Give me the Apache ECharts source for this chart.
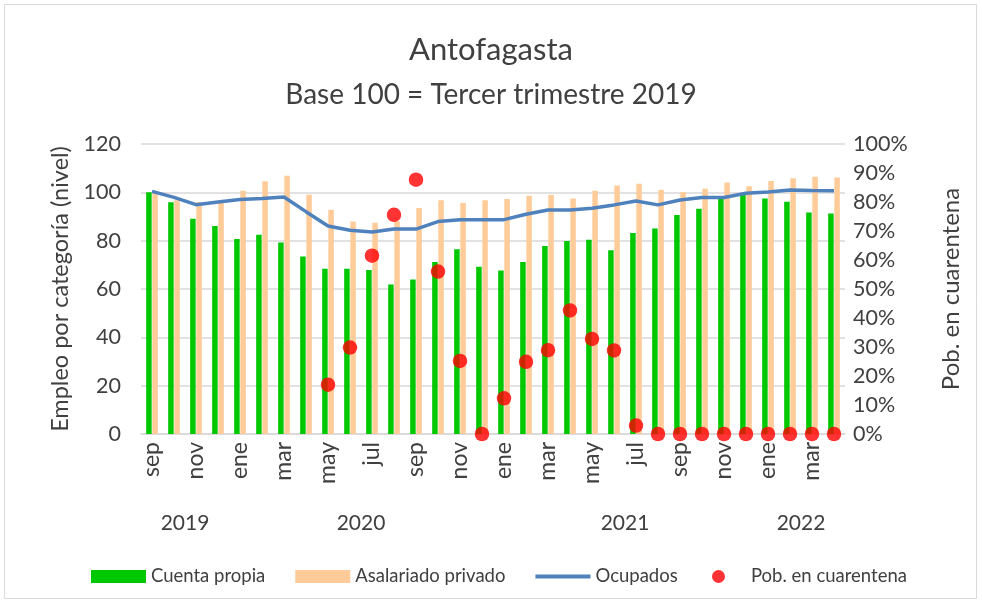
<!DOCTYPE html>
<html>
<head>
<meta charset="utf-8">
<script src="https://cdn.jsdelivr.net/npm/echarts@6/dist/echarts.min.js"></script>
<style>
html,body{margin:0;padding:0;background:#fff;}
#c{width:982px;height:604px;}
</style>
</head>
<body>
<div id="c"></div>
<script>
const months = ['sep','oct','nov','dic','ene','feb','mar','abr','may','jun','jul','ago',
  'sep','oct','nov','dic','ene','feb','mar','abr','may','jun','jul','ago',
  'sep','oct','nov','dic','ene','feb','mar','abr'];
const monthYears = [2019,2019,2019,2019,
  2020,2020,2020,2020,2020,2020,2020,2020,2020,2020,2020,2020,
  2021,2021,2021,2021,2021,2021,2021,2021,2021,2021,2021,2021,
  2022,2022,2022,2022];
const cuentaPropia = [100,95.9,89.1,86.1,80.7,82.5,79.2,73.4,68.4,68.4,67.9,61.9,
  63.9,71.2,76.4,69.2,67.7,71.2,77.8,79.9,80.4,76.0,83.2,85.0,
  90.6,93.2,97.2,99.0,97.5,96.1,91.7,91.2];
const asalariadoPrivado = [100,96.7,96,95.6,100.7,104.6,106.9,99.0,92.8,87.9,87.4,88,
  93.5,96.7,95.6,96.7,97.2,98.6,98.9,97.4,100.7,102.8,103.6,101.1,
  100.1,101.5,104.1,102.5,104.7,105.8,106.5,106.1];
const ocupados = [100.4,97.9,94.9,96.0,97.0,97.4,98.1,92.0,86.1,84.3,83.6,84.8,
  84.8,87.9,88.7,88.7,88.7,90.9,92.7,92.7,93.4,94.8,96.4,94.8,
  96.8,97.9,97.9,99.6,100.1,101.0,100.8,100.7];
const cuarentena = [null,null,null,null,null,null,null,null,0.17,0.298,0.615,0.756,
  0.877,0.56,0.252,0,0.123,0.249,0.289,0.426,0.328,0.288,0.029,0,
  0,0,0,0,0,0,0,0];
const leftTicks = {min:0,max:120,interval:20};
const rightTicks = {min:0,max:1,interval:0.1};

const FONT = 'Lato, "Noto Sans", sans-serif';
const DARK = '#404040';
const chart = echarts.init(document.getElementById('c'), null, {renderer:'canvas'});
const legendText = {fontFamily:FONT,fontSize:18.5,color:DARK};
const option = {
  animation:false,
  backgroundColor:'#fff',
  textStyle:{fontFamily:FONT},
  title:[
    {text:'Antofagasta',left:'center',top:29,textStyle:{fontFamily:FONT,fontSize:31,fontWeight:'normal',color:DARK}},
    {text:'Base 100 = Tercer trimestre 2019',left:'center',top:76,textStyle:{fontFamily:FONT,fontSize:28,fontWeight:'normal',color:DARK}}
  ],
  legend:[{
    left:86,top:562,itemGap:30,itemWidth:55,itemHeight:13,
    textStyle:legendText,
    data:[
      {name:'Cuenta propia',icon:'rect'},
      {name:'Asalariado privado',icon:'rect'},
      {name:'Ocupados',icon:'path://M0,0H55V4H0Z'}
    ]
  },{
    left:707,top:562,itemWidth:55,itemHeight:13,
    textStyle:legendText,
    data:[{name:'Pob. en cuarentena',icon:'circle'}]
  }],
  grid:{left:141,right:137,top:144,bottom:170},
  xAxis:{
    type:'category',data:months,
    axisLine:{show:true,lineStyle:{color:'#d9d9d9',width:1.5}},
    axisTick:{show:false},
    axisLabel:{interval:1,rotate:90,fontSize:23,color:DARK,fontFamily:FONT,margin:8}
  },
  yAxis:[
    {type:'value',min:leftTicks.min,max:leftTicks.max,interval:leftTicks.interval,
     name:'Empleo por categoría (nivel)',nameLocation:'middle',nameGap:68,nameRotate:90,
     nameTextStyle:{fontSize:23.5,color:DARK,fontFamily:FONT},
     axisLine:{show:false},axisTick:{show:false},
     axisLabel:{fontSize:21.5,color:DARK,fontFamily:FONT,margin:20},
     splitLine:{lineStyle:{color:'#d9d9d9',width:1.5}}},
    {type:'value',min:rightTicks.min,max:rightTicks.max,interval:rightTicks.interval,
     name:'Pob. en cuarentena',nameLocation:'middle',nameGap:94,nameRotate:90,
     nameTextStyle:{fontSize:24,color:DARK,fontFamily:FONT},
     axisLine:{show:false},axisTick:{show:false},
     axisLabel:{fontSize:21.5,color:DARK,fontFamily:FONT,margin:8,formatter:v=>Math.round(v*100)+'%'},
     splitLine:{show:false}}
  ],
  series:[
    {name:'Cuenta propia',type:'bar',data:cuentaPropia,barWidth:5.5,barGap:'12%',
     itemStyle:{color:'#00C800'}},
    {name:'Asalariado privado',type:'bar',data:asalariadoPrivado,barWidth:5.5,barGap:'12%',
     itemStyle:{color:'#FFCC99'}},
    {name:'Ocupados',type:'line',data:ocupados,symbol:'none',
     lineStyle:{color:'#4F81BD',width:3.5},itemStyle:{color:'#4F81BD'}},
    {name:'Pob. en cuarentena',type:'scatter',yAxisIndex:1,data:cuarentena,symbolSize:14.5,
     itemStyle:{color:'#FF0000'}}
  ]
};
chart.setOption(option);

// Year group labels centred under their months
const groups = [];
monthYears.forEach((y,i)=>{
  const g = groups.find(g=>g.year===y);
  if(g){g.end=i;} else groups.push({year:y,start:i,end:i});
});
const graphics = groups.map(g=>{
  const x0 = chart.convertToPixel({xAxisIndex:0}, g.start);
  const x1 = chart.convertToPixel({xAxisIndex:0}, g.end);
  return {type:'text',x:(x0+x1)/2,y:523,
    style:{text:String(g.year),fontSize:21,fill:DARK,fontFamily:FONT,align:'center',verticalAlign:'middle'}};
});
graphics.push({type:'rect',shape:{x:4.5,y:4.5,width:972,height:594},
  style:{fill:null,stroke:'#d9d9d9',lineWidth:1},silent:true,z:-1});
chart.setOption({graphic:graphics});
</script>
</body>
</html>
